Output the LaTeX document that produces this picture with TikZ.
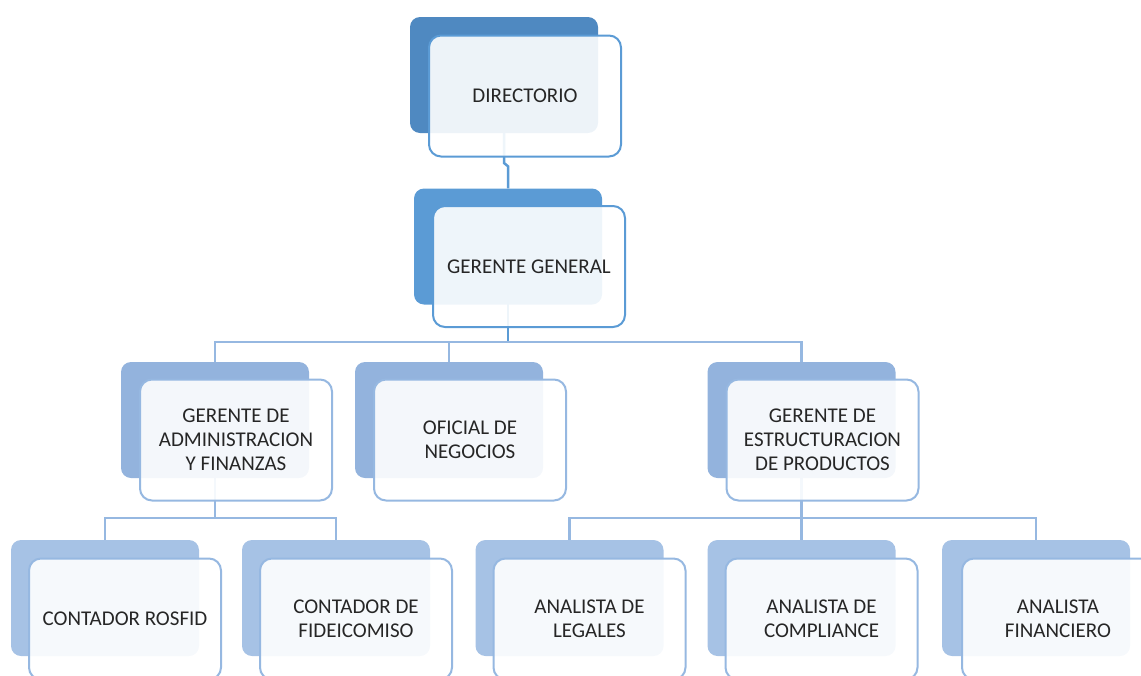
\documentclass[tikz,border=0pt]{standalone}
\usepackage{fontspec}
\setmainfont{Carlito}
\usetikzlibrary{calc}
\definecolor{backA}{HTML}{4F89C1}
\definecolor{backB}{HTML}{5B9BD5}
\definecolor{backC}{HTML}{93B3DD}
\definecolor{backD}{HTML}{A6C2E5}
\definecolor{lineA}{HTML}{5B9BD5}
\definecolor{lineC}{HTML}{96B8E1}
\definecolor{txt}{HTML}{262626}
\pgfdeclarelayer{bg}
\pgfsetlayers{bg,main}
\tikzset{
  backbox/.style={rectangle, rounded corners=10pt, minimum width=188pt, minimum height=116pt, inner sep=0pt},
  frontbox/.style={rectangle, rounded corners=12pt, minimum width=192pt, minimum height=121pt, inner sep=0pt,
    fill=white, fill opacity=0.9, text opacity=1, line width=2pt, align=center, text=txt,
    font=\fontsize{21}{24}\selectfont},
  conn/.style={line width=2.5pt}
}
\begin{document}
\begin{tikzpicture}[x=1pt,y=-1pt]
\useasboundingbox (0,0) rectangle (1141,675);
\clip (0,0) rectangle (1141,675);
% back boxes
\node[backbox, fill=backA] (dB) at (504,75) {};
\node[backbox, fill=backB] (gB) at (508,246.5) {};
\node[backbox, fill=backC] (aB) at (215,420) {};
\node[backbox, fill=backC] (oB) at (449,420) {};
\node[backbox, fill=backC] (eB) at (801.5,420) {};
\node[backbox, fill=backD] (c1B) at (105,598) {};
\node[backbox, fill=backD] (c2B) at (336,598) {};
\node[backbox, fill=backD] (l1B) at (569.5,598) {};
\node[backbox, fill=backD] (l2B) at (801.5,598) {};
\node[backbox, fill=backD] (l3B) at (1036,598) {};
% connectors
\begin{pgfonlayer}{bg}
\coordinate (j1) at ($(dB.center)+(0,88)$);
\coordinate (j2) at ($(gB.north)+(0,-22)$);
\draw[conn, lineA] (dB.center) -- (j1) -- (j2) -- (gB.north);
\coordinate (busA) at (0,342);
\draw[conn, lineA] (gB.center) -- (gB.center |- busA);
\draw[conn, lineC] (aB.north) |- (busA -| eB.north) -- (eB.north);
\draw[conn, lineC] (oB.north) -- (oB.north |- busA);
\coordinate (busB) at (0,518);
\draw[conn, lineC] (aB.center) -- (aB.center |- busB);
\draw[conn, lineC] (c1B.north) |- (busB -| c2B.north) -- (c2B.north);
\draw[conn, lineC] (eB.center) -- (eB.center |- busB);
\draw[conn, lineC] (l1B.north) |- (busB -| l3B.north) -- (l3B.north);
\draw[conn, lineC] (l2B.north) -- (l2B.north |- busB);
\end{pgfonlayer}
% front boxes
\node[frontbox, draw=lineA] (dF) at ($(dB)+(21,21)$) {DIRECTORIO};
\node[frontbox, draw=lineA] (gF) at ($(gB)+(21,20)$) {GERENTE GENERAL};
\node[frontbox, draw=lineC] (aF) at ($(aB)+(21,20)$) {GERENTE DE\\ADMINISTRACION\\Y FINANZAS};
\node[frontbox, draw=lineC] (oF) at ($(oB)+(21,20)$) {OFICIAL DE\\NEGOCIOS};
\node[frontbox, draw=lineC] (eF) at ($(eB)+(21,20)$) {GERENTE DE\\ESTRUCTURACION\\DE PRODUCTOS};
\node[frontbox, draw=lineC] (c1F) at ($(c1B)+(20,21)$) {CONTADOR ROSFID};
\node[frontbox, draw=lineC] (c2F) at ($(c2B)+(20,21)$) {CONTADOR DE\\FIDEICOMISO};
\node[frontbox, draw=lineC] (l1F) at ($(l1B)+(20,21)$) {ANALISTA DE\\LEGALES};
\node[frontbox, draw=lineC] (l2F) at ($(l2B)+(20,21)$) {ANALISTA DE\\COMPLIANCE};
\node[frontbox, draw=lineC] (l3F) at ($(l3B)+(22,21)$) {ANALISTA\\FINANCIERO};
\end{tikzpicture}
\end{document}
